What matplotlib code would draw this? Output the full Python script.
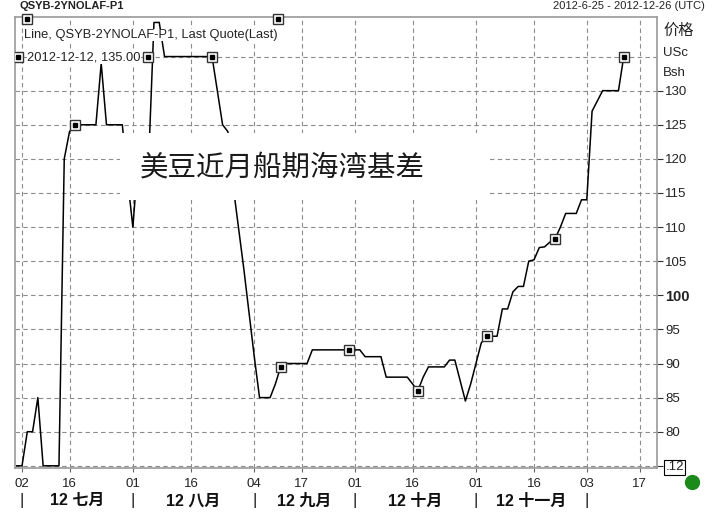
import numpy as np
import pandas as pd
import matplotlib
matplotlib.use('Agg')
import matplotlib.pyplot as plt
from matplotlib.patches import Rectangle

plt.rcParams['font.family'] = ['Liberation Sans', 'Noto Sans CJK SC']

# trading calendar (CBOT holidays)
holidays = ['2012-07-04', '2012-09-03', '2012-11-22', '2012-12-25']
start_date = '2012-06-29'
end_date = '2012-12-31'

# near-month gulf basis, USc/bu, one value per trading day from 2012-06-29
basis = [75, 75, 80, 80, 85, 75, 75, 75, 75, 120,
         124, 125, 125, 125, 125, 125, 134, 125, 125, 125,
         125, 117, 110, 120, 119, 120, 140, 140, 135, 135,
         135, 135, 135, 135, 135, 135, 135, 135, 130, 125,
         124, 116, 110, 104, 97.5, 91, 85, 85, 85, 87,
         89.5, 90, 90, 90, 90, 90, 92, 92, 92, 92,
         92, 92, 92, 92, 92, 92, 91, 91, 91, 91,
         88, 88, 88, 88, 88, 87, 86, 88, 89.5, 89.5,
         89.5, 89.5, 90.5, 90.5, 87.5, 84.5, 87, 90, 93, 94,
         94, 94, 98, 98, 100.5, 101.3, 101.3, 105, 105.2, 107,
         107.1, 107.8, 108.3, 110, 112, 112, 112, 114, 114, 127,
         128.5, 130, 130, 130, 130, 135]
marker_every = slice(11, None, 13)

tick_dates = ['2012-07-02', '2012-07-16', '2012-08-01', '2012-08-16',
              '2012-09-04', '2012-09-17', '2012-10-01', '2012-10-16',
              '2012-11-01', '2012-11-16', '2012-12-03', '2012-12-17']
tick_labels = ['02', '16', '01', '16', '04', '17', '01', '16', '01', '16', '03', '17']
month_starts = ['2012-07-02', '2012-08-01', '2012-09-04', '2012-10-01',
                '2012-11-01', '2012-12-03']
month_labels = ['12 七月', '12 八月', '12 九月', '12 十月', '12 十一月']
ytick_values = [75, 80, 85, 90, 95, 100, 105, 110, 115, 120, 125, 130, 135]
ytick_labels = ['.12', '80', '85', '90', '95', '100', '105', '110', '115',
                '120', '125', '130', '']

title = '美豆近月船期海湾基差'
legend_text = 'Line, QSYB-2YNOLAF-P1, Last Quote(Last)'

bday = pd.offsets.CustomBusinessDay(holidays=holidays)
days = pd.date_range(start_date, end_date, freq=bday)
pos = {d.strftime('%Y-%m-%d'): i for i, d in enumerate(days)}
x = np.arange(len(basis))


def box_marker(ax, xx, yy, **kw):
    ax.plot(xx, yy, ls='none', marker='s', ms=7, mfc='white', mec='#333333',
            mew=1.0, **kw)
    ax.plot(xx, yy, ls='none', marker='s', ms=2.6, mfc='black', mec='black',
            **kw)


W, H = 715, 518
fig = plt.figure(figsize=(W / 100, H / 100), dpi=100)
ax = fig.add_axes([15 / W, 1 - 468 / H, 642 / W, 451 / H])

ax.plot(x, basis, color='black', lw=1.1, zorder=2)
box_marker(ax, x, basis, markevery=marker_every, zorder=2.5)

ax.set_xlim(-0.33, 121.3)
ax.set_ylim(74.68, 140.8)

# axes cosmetics
for s in ax.spines.values():
    s.set_color('#9a9a9a')
    s.set_linewidth(1.2)

ax.set_xticks([pos[d] for d in tick_dates])
ax.set_xticklabels(tick_labels, fontsize=9.5, color='#222222')
ax.tick_params(axis='x', length=3, color='#666666', pad=4)

ax.yaxis.tick_right()
ax.set_yticks(ytick_values)
ax.set_yticklabels(ytick_labels, fontsize=9.5, color='#222222')
ax.tick_params(axis='y', length=4, color='#333333', pad=2)
ax.yaxis.get_major_ticks()[-1].tick2line.set_visible(False)
for lab in ax.get_yticklabels():
    if lab.get_text() == '100':
        lab.set_fontweight('bold')
        lab.set_fontsize(10.5)
    if lab.get_text() == '.12':
        lab.set_bbox(dict(facecolor='white', edgecolor='black', pad=1.0, lw=0.8))

ax.grid(True, color='#8c8c8c', ls=(0, (4, 3)), lw=0.8)
ax.set_axisbelow(True)

# white panel with the chart title
ax.add_patch(Rectangle((0.1636, 0.594), 0.5764, 0.149, transform=ax.transAxes,
                       facecolor='white', edgecolor='none', zorder=3))
ax.text(0.416, 0.667, title, transform=ax.transAxes, ha='center', va='center',
        fontsize=20.5, color='#1a1a1a', family='Noto Sans CJK SC', zorder=4)

# legend / last value labels
ax.text(0.014, 0.960, legend_text, transform=ax.transAxes, va='center',
        fontsize=9.3, color='#222222', zorder=5,
        bbox=dict(facecolor='white', edgecolor='none', pad=0.3))
last_label = '{}, {:.2f}'.format(days[len(basis) - 1].strftime('%Y-%m-%d'), basis[-1])
ax.text(0.019, 0.911, last_label, transform=ax.transAxes, va='center',
        fontsize=9.3, color='#222222', zorder=5,
        bbox=dict(facecolor='white', edgecolor='none', pad=0.3))
box_marker(ax, [0.018, 0.4097], [0.9945, 0.9945], transform=ax.transAxes,
           clip_on=False, zorder=6)
box_marker(ax, [0.0047, 0.207], [0.911, 0.911], transform=ax.transAxes,
           zorder=6)

# month band below the axis
tr = ax.get_xaxis_transform()
seps = [pos[d] for d in month_starts]
for s in seps:
    ax.text(s, -0.073, '|', transform=tr, ha='center', va='center',
            fontsize=12, color='#222222')
for i, lab in enumerate(month_labels):
    ax.text((seps[i] + seps[i + 1]) / 2, -0.073, lab, transform=tr,
            ha='center', va='center', fontsize=11.5, fontweight='bold',
            color='#111111')

# units at the top of the price scale
fig.text(663 / W, 1 - 31 / H, '价格', va='center', fontsize=11, color='#222222')
fig.text(663 / W, 1 - 53 / H, 'USc', va='center', fontsize=9.5, color='#222222')
fig.text(663 / W, 1 - 73 / H, 'Bsh', va='center', fontsize=9.5, color='#222222')

# header
fig.text(20 / W, 1 - 1 / H, 'QSYB-2YNOLAF-P1', va='top', fontsize=8,
         fontweight='bold', color='#222222')
fig.text(705 / W, 1 - 1 / H, '2012-6-25 - 2012-12-26 (UTC)', ha='right',
         va='top', fontsize=8, color='#222222')

# status dot
ax.plot([692 / W], [1 - 482 / H], marker='o', ms=10, color='#1b8a1b',
        transform=fig.transFigure, clip_on=False)

fig.savefig('out.png', dpi=100)
